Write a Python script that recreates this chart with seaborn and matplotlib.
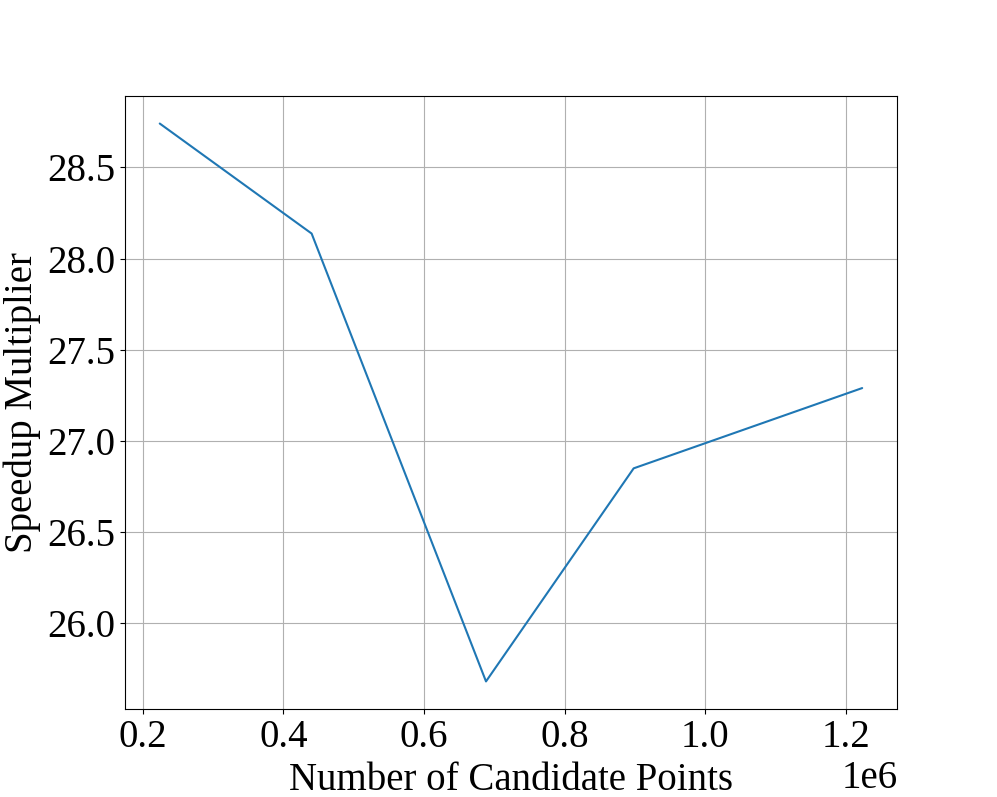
"""Speedup multiplier vs number of candidate points."""

import matplotlib
matplotlib.use("Agg")
import matplotlib.pyplot as plt
import pandas as pd
import seaborn as sns

candidate_points = [224000, 440000, 688000, 898000, 1223000]
speedup = [28.74, 28.137, 25.682, 26.85, 27.29]


def main() -> None:
    sns.set_style("ticks")
    plt.rcParams["font.family"] = ["Liberation Serif", "DejaVu Serif"]
    plt.rcParams["text.color"] = "black"
    plt.rcParams["axes.labelcolor"] = "black"
    plt.rcParams["xtick.color"] = "black"
    plt.rcParams["ytick.color"] = "black"

    df = pd.DataFrame({"points": candidate_points, "speedup": speedup})

    fig, ax = plt.subplots(figsize=(9.97, 7.97), dpi=100)
    sns.lineplot(data=df, x="points", y="speedup", ax=ax, color="#1f77b4", linewidth=1.5)
    ax.grid(True, color="#b0b0b0", linewidth=0.8)
    for spine in ax.spines.values():
        spine.set_visible(True)
        spine.set_color("black")
        spine.set_linewidth(0.8)
    ax.tick_params(labelsize=28, direction="out", length=3.5, width=0.8,
                   color="black", labelcolor="black")
    ax.xaxis.get_offset_text().set_fontsize(28)
    ax.xaxis.get_offset_text().set_color("black")
    ax.set_xlabel("Number of Candidate Points", fontsize=28, labelpad=4, color="black")
    ax.set_ylabel("Speedup Multiplier", fontsize=28, labelpad=4, color="black")
    plt.savefig("out.png", dpi=100)
    plt.close()


if __name__ == "__main__":
    main()
